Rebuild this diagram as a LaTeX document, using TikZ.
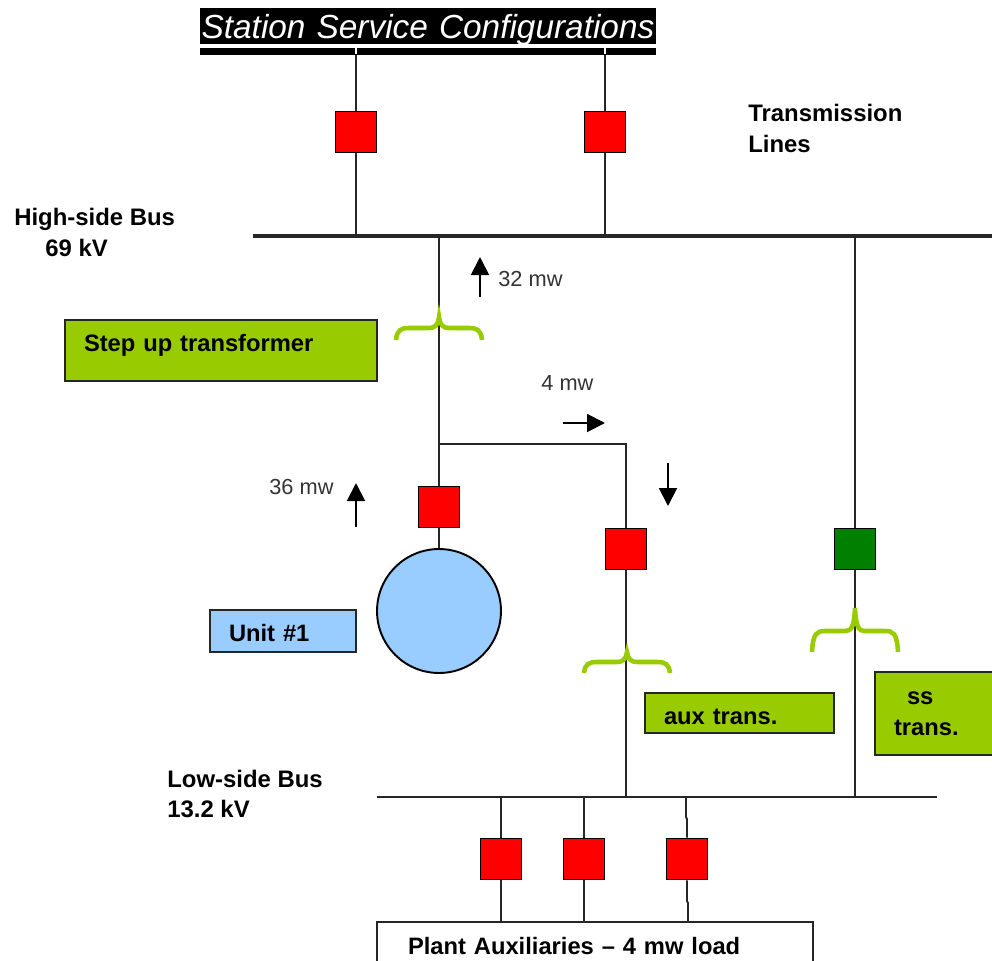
\documentclass[tikz,border=0pt]{standalone}
\usepackage{fontspec}
\setmainfont{Liberation Sans}
\usetikzlibrary{arrows.meta}
\definecolor{brkred}{HTML}{FF0000}
\definecolor{brkgreen}{HTML}{007F00}
\definecolor{xfmrgreen}{HTML}{99CC00}
\definecolor{unitblue}{HTML}{99CCFF}
\begin{document}
\begin{tikzpicture}[x=0.02cm,y=-0.02cm,
  wire/.style={line width=1.1pt,color=black!85},
  breaker/.style={draw=black,line width=1.1pt,fill=brkred,minimum size=0.82cm,inner sep=0pt},
  tag/.style={draw=black!85,line width=1.1pt,fill=xfmrgreen,inner ysep=0pt,inner xsep=0.38cm,align=left,
    font=\bfseries\fontsize{13.5}{17.6}\selectfont},
  title/.style={font=\bfseries\fontsize{13.6}{17.6}\selectfont,align=left,anchor=west,inner sep=0pt},
  flow/.style={font=\fontsize{12.4}{15}\selectfont,color=black!80,anchor=west,inner sep=0pt},
  flowarrow/.style={line width=1.1pt,-{Triangle[length=0.36cm,width=0.36cm]}}]
\useasboundingbox (0,0) rectangle (992,961);

\node[fill=black,text=white,text width=9.12cm,align=center,text height=0.6cm,text depth=0.12cm,inner sep=0pt,
  font=\itshape\fontsize{19}{24}\selectfont] (banner) at (428,26) {Station Service Configurations};
\node[fill=black,minimum width=9.12cm,minimum height=0.14cm,inner sep=0pt] (stripe) at (428,51) {};

\node[breaker] (brka) at (356,132) {};
\node[breaker] (brkb) at (605,132) {};
\node[breaker] (brkgen) at (439,507) {};
\node[breaker] (brkaux) at (626,549) {};
\node[breaker,fill=brkgreen] (brkss) at (855,549) {};
\node[breaker] (brkl) at (501,859) {};
\node[breaker] (brkm) at (584,859) {};
\node[breaker] (brkr) at (687,859) {};

\node[draw=black,line width=1.1pt,fill=unitblue,circle,minimum size=2.48cm,inner sep=0pt] (unit) at (439,611) {};

\node[tag,minimum width=6.24cm,text width=5.48cm,minimum height=1.22cm,text depth=0.3cm] (stepup) at (221,350.5) {Step up transformer};
\node[tag,fill=unitblue,minimum width=2.92cm,text width=2.16cm,minimum height=0.84cm,text height=0.42cm] (unitlabel) at (283,631) {Unit \#1};
\node[tag,minimum width=3.78cm,text width=3.02cm,minimum height=0.8cm,text height=0.45cm] (auxlabel) at (739.5,713) {aux trans.};
\node[tag,minimum width=2.6cm,text width=1.84cm,minimum height=1.66cm] (sslabel) at (940,713.5) {\hspace*{0.26cm}ss\\trans.};
\node[tag,fill=white,minimum width=8.72cm,text width=7.48cm,inner xsep=0.62cm,minimum height=0.96cm] (plant) at (595,946) {Plant Auxiliaries -- 4 mw load};

\node[title] (trans) at (748,128) {Transmission\\Lines};
\node[title] (highbus) at (14,232) {High-side Bus\\\hspace*{0.62cm}69 kV};
\node[title] (lowbus) at (167,794) {Low-side Bus\\13.2 kV};

\node[flow] (mwa) at (498,279) {32 mw};
\node[flow] (mwb) at (541,383) {4 mw};
\node[flow] (mwc) at (269,487) {36 mw};

\coordinate (higha) at (253,236);
\coordinate (highb) at (992,236);
\coordinate (lowa) at (377,797);
\coordinate (lowb) at (937,797);
\coordinate (junc) at (439,444);

\draw[line width=2.2pt,color=black!85] (higha) -- (highb);
\draw[wire] (lowa) -- (lowb);

\draw[wire] (brka |- stripe.south) -- (brka) -- (brka |- higha);
\draw[wire] (brkb |- stripe.south) -- (brkb) -- (brkb |- higha);
\draw[wire] (brkgen |- higha) -- (brkgen);
\draw[wire] (brkgen) -- (unit);
\draw[wire] (junc) -| (brkaux);
\draw[wire] (brkaux) -- (brkaux |- lowa);
\draw[wire] (brkss |- higha) -- (brkss) -- (brkss |- lowa);
\draw[wire] (brkl |- lowa) -- (brkl) -- (brkl |- plant.north);
\draw[wire] (brkm |- lowa) -- (brkm) -- (brkm |- plant.north);
\draw[wire] (brkr |- lowa) ++(-1,0) -- ++(0,20) -- ++(1,2) -- (brkr) -- ++(0,42) -- ++(1,2) -- ++(0,19);

\foreach \cx in {356,605}
  \draw[line width=0.7pt,color=white] (\cx,48) -- (\cx,54);

\foreach \cx/\ctop/\cflat/\cbot in {439/317/328/340, 627/652/662/673, 855/608/631/652}
  \draw[line width=2.6pt,color=xfmrgreen] (\cx-43,\cbot)
    .. controls (\cx-42,\cflat+2) and (\cx-38,\cflat) .. (\cx-30,\cflat) -- (\cx-10,\cflat)
    .. controls (\cx-4,\cflat) and (\cx-1,\cflat-3) .. (\cx,\ctop)
    .. controls (\cx+1,\cflat-3) and (\cx+4,\cflat) .. (\cx+10,\cflat) -- (\cx+30,\cflat)
    .. controls (\cx+38,\cflat) and (\cx+42,\cflat+2) .. (\cx+43,\cbot);

\draw[flowarrow] (480,297) -- (480,257);
\draw[flowarrow] (563,423) -- (605,423);
\draw[flowarrow] (668,463) -- (668,506);
\draw[flowarrow] (356,527) -- (356,483);
\end{tikzpicture}
\end{document}
